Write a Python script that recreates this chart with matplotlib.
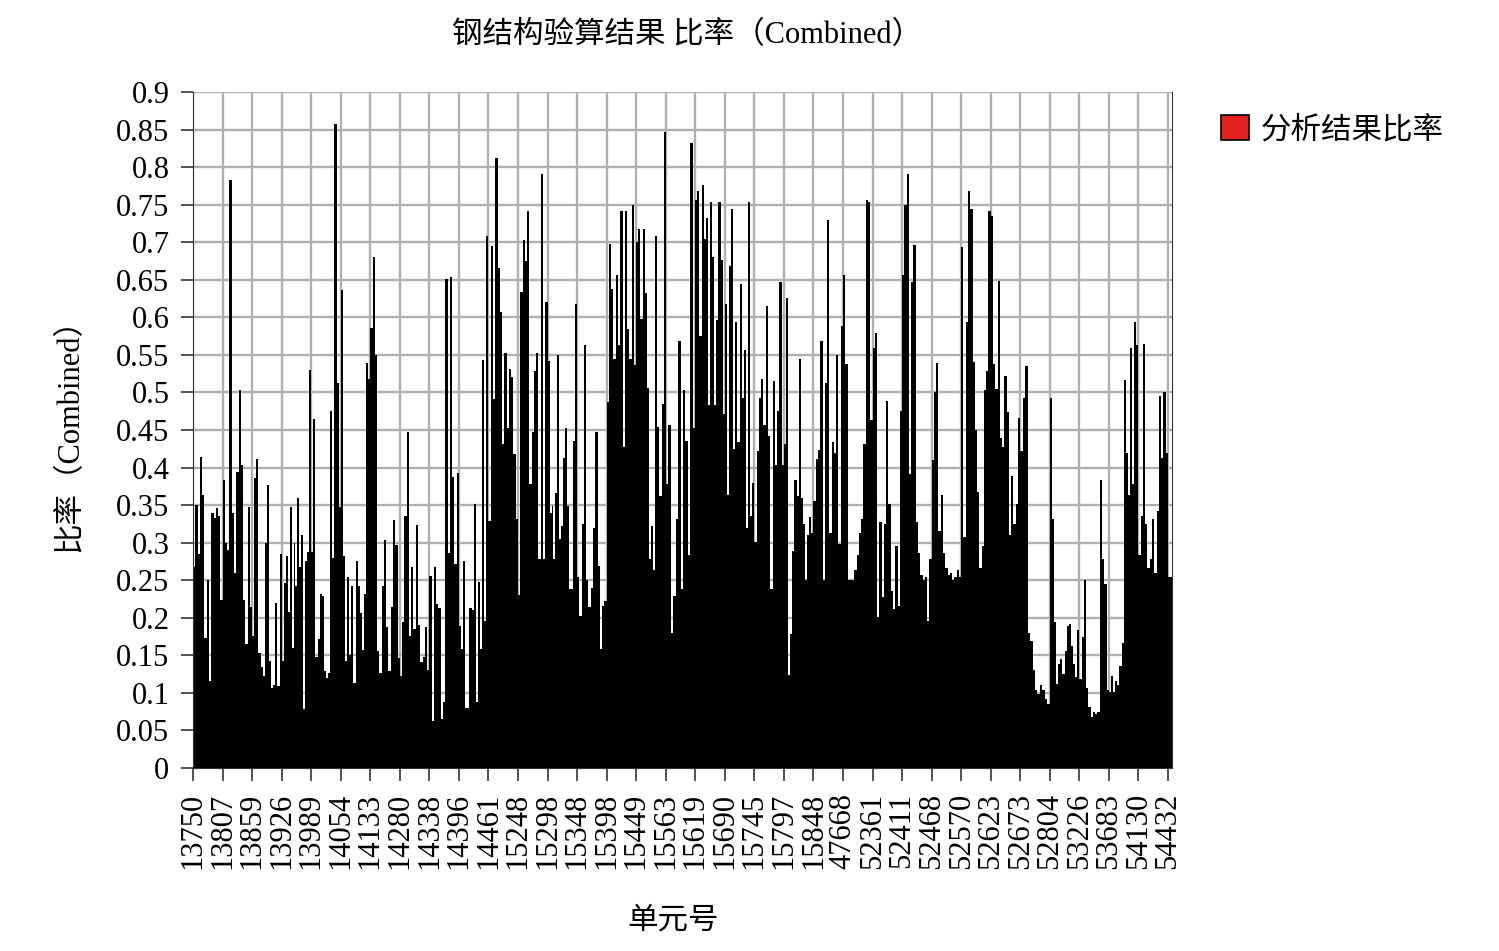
import numpy as np
import matplotlib.pyplot as plt
from matplotlib.patches import Patch

# 字体: 数字用衬线体, 中文回退到 CJK
plt.rcParams['font.family'] = ['Liberation Serif', 'Noto Sans CJK SC']
plt.rcParams['axes.unicode_minus'] = False

title = '钢结构验算结果 比率（Combined）'
x_title = '单元号'
y_title = '比率（Combined）'
legend_label = '分析结果比率'

# x轴标签 (单元号)
labels = ['13750', '13807', '13859', '13926', '13989', '14054', '14133', '14280',
          '14338', '14396', '14461', '15248', '15298', '15348', '15398', '15449',
          '15563', '15619', '15690', '15745', '15797', '15848', '47668', '52361',
          '52411', '52468', '52570', '52623', '52673', '52804', '53226', '53683',
          '54130', '54432']

# 各标签区间内的比率值
seg00 = [0.267, 0.35, 0.285, 0.414, 0.364, 0.173, 0.25, 0.116, 0.34, 0.333, 0.346, 0.335, 0.224]
seg01 = [0.384, 0.30, 0.29, 0.783, 0.34, 0.26, 0.394, 0.503, 0.404, 0.224, 0.165, 0.347, 0.215]
seg02 = [0.176, 0.386, 0.411, 0.153, 0.135, 0.123, 0.30, 0.377, 0.143, 0.107, 0.11, 0.22, 0.109, 0.285]
seg03 = [0.143, 0.246, 0.282, 0.208, 0.347, 0.16, 0.30, 0.243, 0.36, 0.267, 0.31, 0.079, 0.276, 0.288, 0.53]
seg04 = [0.288, 0.465, 0.148, 0.172, 0.232, 0.229, 0.129, 0.12, 0.126, 0.476, 0.279, 0.857, 0.512, 0.347]
seg05 = [0.636, 0.282, 0.143, 0.255, 0.151, 0.243, 0.113, 0.276, 0.243, 0.207, 0.157, 0.232, 0.539, 0.518]
seg06 = [0.586, 0.68, 0.55, 0.156, 0.126, 0.243, 0.303, 0.188, 0.129, 0.214, 0.33, 0.297, 0.147]
seg07 = [0.123, 0.194, 0.335, 0.448, 0.176, 0.267, 0.185, 0.324, 0.191, 0.141, 0.148, 0.188, 0.13]
seg08 = [0.256, 0.062, 0.268, 0.219, 0.213, 0.065, 0.088, 0.651, 0.286, 0.654, 0.387, 0.272, 0.393]
seg09 = [0.189, 0.159, 0.275, 0.08, 0.08, 0.213, 0.21, 0.351, 0.088, 0.248, 0.158, 0.543, 0.196, 0.709]
seg10 = [0.329, 0.695, 0.491, 0.812, 0.666, 0.607, 0.431, 0.553, 0.453, 0.531, 0.521, 0.418, 0.331]
seg11 = [0.231, 0.634, 0.703, 0.675, 0.741, 0.378, 0.448, 0.528, 0.553, 0.278, 0.791, 0.278, 0.62]
seg12 = [0.542, 0.339, 0.349, 0.278, 0.366, 0.55, 0.305, 0.322, 0.413, 0.453, 0.349, 0.238, 0.238, 0.435, 0.618]
seg13 = [0.255, 0.203, 0.325, 0.563, 0.251, 0.214, 0.24, 0.319, 0.448, 0.269, 0.158, 0.216, 0.222]
seg14 = [0.488, 0.698, 0.638, 0.545, 0.656, 0.563, 0.741, 0.428, 0.741, 0.585, 0.545, 0.749, 0.536]
seg15 = [0.701, 0.718, 0.598, 0.718, 0.632, 0.506, 0.278, 0.322, 0.263, 0.709, 0.454, 0.362, 0.485, 0.847]
seg16 = [0.378, 0.457, 0.18, 0.229, 0.331, 0.568, 0.239, 0.503, 0.436, 0.284, 0.832, 0.453]
seg17 = [0.756, 0.768, 0.575, 0.776, 0.704, 0.732, 0.484, 0.753, 0.681, 0.484, 0.597, 0.753, 0.676, 0.471]
seg18 = [0.618, 0.364, 0.668, 0.744, 0.425, 0.594, 0.434, 0.644, 0.492, 0.556, 0.319, 0.753, 0.336, 0.379]
seg19 = [0.301, 0.422, 0.492, 0.518, 0.457, 0.615, 0.442, 0.239, 0.515, 0.404, 0.476, 0.647, 0.403]
seg20 = [0.431, 0.626, 0.124, 0.179, 0.289, 0.384, 0.362, 0.545, 0.36, 0.325, 0.251, 0.31, 0.334, 0.313]
seg21 = [0.356, 0.412, 0.424, 0.568, 0.251, 0.513, 0.729, 0.313, 0.434, 0.419, 0.55, 0.298, 0.589]
seg22 = [0.656, 0.538, 0.251, 0.251, 0.251, 0.263, 0.284, 0.313, 0.331, 0.431, 0.756, 0.753, 0.463]
seg23 = [0.559, 0.579, 0.201, 0.328, 0.228, 0.325, 0.489, 0.351, 0.236, 0.212, 0.295, 0.216, 0.476]
seg24 = [0.656, 0.75, 0.791, 0.392, 0.647, 0.697, 0.328, 0.286, 0.257, 0.251, 0.254, 0.196, 0.278]
seg25 = [0.41, 0.5, 0.539, 0.316, 0.363, 0.286, 0.266, 0.257, 0.26, 0.251, 0.254, 0.263, 0.254]
seg26 = [0.694, 0.307, 0.594, 0.768, 0.744, 0.541, 0.45, 0.368, 0.266, 0.295, 0.503, 0.529, 0.741]
seg27 = [0.735, 0.538, 0.504, 0.648, 0.439, 0.428, 0.522, 0.474, 0.31, 0.389, 0.325, 0.351, 0.466]
seg28 = [0.422, 0.492, 0.535, 0.18, 0.169, 0.131, 0.104, 0.098, 0.11, 0.104, 0.092, 0.085]
seg29 = [0.492, 0.331, 0.195, 0.112, 0.139, 0.145, 0.125, 0.156, 0.189, 0.192, 0.163, 0.139, 0.121, 0.184]
seg30 = [0.118, 0.175, 0.251, 0.107, 0.081, 0.068, 0.074, 0.072, 0.075, 0.384, 0.278, 0.245, 0.104]
seg31 = [0.101, 0.122, 0.101, 0.116, 0.11, 0.136, 0.166, 0.516, 0.419, 0.363, 0.559, 0.378, 0.594, 0.563]
seg32 = [0.284, 0.336, 0.565, 0.325, 0.266, 0.278, 0.331, 0.26, 0.342, 0.495, 0.413, 0.5, 0.419]
seg33 = [0.254]

segs = [seg00, seg01, seg02, seg03, seg04, seg05, seg06, seg07, seg08, seg09,
        seg10, seg11, seg12, seg13, seg14, seg15, seg16, seg17, seg18, seg19,
        seg20, seg21, seg22, seg23, seg24, seg25, seg26, seg27, seg28, seg29,
        seg30, seg31, seg32, seg33]

y_ticks = [0, 0.05, 0.1, 0.15, 0.2, 0.25, 0.3, 0.35, 0.4, 0.45,
           0.5, 0.55, 0.6, 0.65, 0.7, 0.75, 0.8, 0.85, 0.9]

fig = plt.figure(figsize=(14.99, 9.51), dpi=100)
ax = fig.add_axes([0.1288, 0.1924, 0.6531, 0.7108])

# 每个区间内的柱子平均分布
for k, seg in enumerate(segs):
    n = len(seg)
    xs = k + np.arange(n) / n
    ax.bar(xs, seg, width=1.0 / n, align='edge', color='black', linewidth=0)

ax.set_xlim(0, 33.14)
ax.set_ylim(0, 0.9)
ax.set_xticks(range(len(labels)))
ax.set_xticklabels(labels, rotation=90)
ax.set_yticks(y_ticks)
ax.set_yticklabels(['%g' % v for v in y_ticks])

ax.set_axisbelow(True)
ax.grid(True, color='#b0b0b0', linewidth=1.7)
ax.spines['top'].set_visible(False)
ax.spines['left'].set_color('#333333')
ax.spines['bottom'].set_color('#333333')
ax.spines['right'].set_color('#333333')
ax.tick_params(axis='both', labelsize=22, length=9, width=1.2, color='#333333')
ax.tick_params(axis='x', pad=9)
ax.tick_params(axis='y', pad=8)

fig.text(0.4585, 0.963, title, ha='center', va='center', fontsize=22)
fig.text(0.449, 0.031, x_title, ha='center', va='center', fontsize=22)
fig.text(0.0467, 0.55, y_title, ha='center', va='center', fontsize=22, rotation=90)

handle = Patch(facecolor='#e52020', edgecolor='black', linewidth=1.2)
fig.legend([handle], [legend_label], loc='upper left',
           bbox_to_anchor=(0.8045, 0.895), frameon=False, fontsize=22,
           handlelength=0.9, handleheight=0.9, handletextpad=0.4, borderpad=0)

fig.savefig('out.png', dpi=100)
